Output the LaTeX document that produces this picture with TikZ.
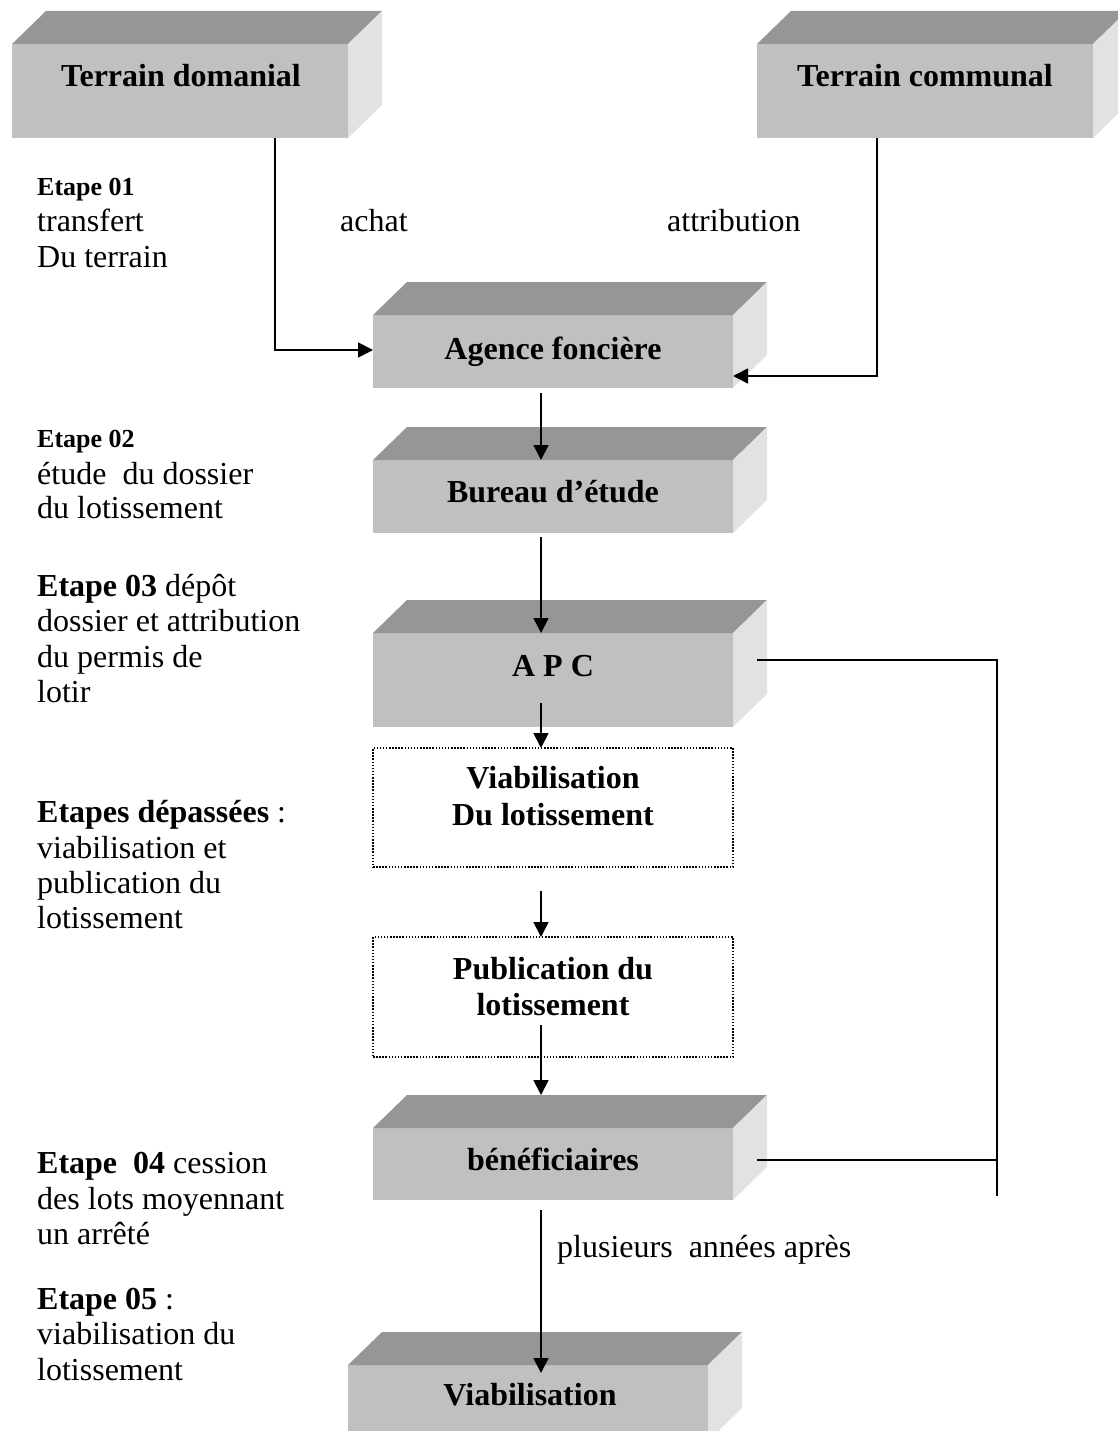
\documentclass[tikz,border=0pt]{standalone}
\usepackage{fontspec}
\setmainfont{Liberation Serif}
\usetikzlibrary{calc,arrows.meta}
\definecolor{frontc}{RGB}{192,192,192}
\definecolor{topc}{RGB}{150,150,150}
\definecolor{sidec}{RGB}{226,226,226}
\newcommand\cubefaces[1]{%
  \fill[topc] (#1.north west) -- ++(34,-33) -- ($(#1.north east)+(34,-33)$) -- (#1.north east) -- cycle;
  \fill[sidec] (#1.north east) -- ++(34,-33) -- ($(#1.south east)+(34,-33)$) -- (#1.south east) -- cycle;}
\begin{document}
\begin{tikzpicture}[x=1pt,y=-1pt,
  front/.style 2 args={fill=frontc, inner sep=0pt, outer sep=0pt, minimum width=#1, minimum height=#2},
  dotbox/.style 2 args={draw, line width=1.5pt, dash pattern=on 1.5pt off 1.6pt, inner sep=0pt, outer sep=0pt, minimum width=#1, minimum height=#2},
  lbl/.style={font=\fontsize{32}{36}\selectfont\bfseries, inner sep=0pt, anchor=base},
  txt/.style={font=\fontsize{32}{36}\selectfont, inner sep=0pt, anchor=base west},
  stxt/.style={font=\fontsize{26}{30}\selectfont\bfseries, inner sep=0pt, anchor=base west},
  ln/.style={line width=1.8pt},
  arr/.style={line width=1.8pt, -{Triangle[length=15pt,width=15pt]}}]
\fill[white] (0,0) rectangle (1118,1431);
\useasboundingbox (0,0) rectangle (1118,1431);

% 3D boxes (front faces)
\node[front={336pt}{94pt}] (dom) at (180,91) {};
\node[front={336pt}{94pt}] (com) at (925,91) {};
\node[front={360pt}{73pt}] (agence) at (553,351.5) {};
\node[front={360pt}{73pt}] (bureau) at (553,496.5) {};
\node[front={360pt}{94pt}] (apc) at (553,680) {};
\node[front={360pt}{72pt}] (benef) at (553,1164) {};
\node[front={360pt}{76pt}] (viab) at (528,1403) {};
\cubefaces{dom}
\cubefaces{com}
\cubefaces{agence}
\cubefaces{bureau}
\cubefaces{apc}
\cubefaces{benef}
\cubefaces{viab}

% dotted boxes
\node[dotbox={360pt}{119pt}] (via) at (553,807.5) {};
\node[dotbox={360pt}{120pt}] (pub) at (553,997) {};

% box labels
\node[lbl] (domT) at (181,87) {Terrain domanial};
\node[lbl] (comT) at (925,87) {Terrain communal};
\node[lbl] (agenceT) at (553,359) {Agence foncière};
\node[lbl] (bureauT) at (553,502) {Bureau d’étude};
\node[lbl] (apcT) at (553,676) {A P C};
\node[lbl] (viaT1) at (553,788) {Viabilisation};
\node[lbl] (viaT2) at (553,825) {Du lotissement};
\node[lbl] (pubT1) at (553,979) {Publication du};
\node[lbl] (pubT2) at (553,1015) {lotissement};
\node[lbl] (benefT) at (553,1170) {bénéficiaires};
\node[lbl] (viabT) at (530,1405) {Viabilisation};

% left texts
\node[stxt] (e1a) at (37,196) {Etape 01};
\node[txt] (e1b) at (37,232) {transfert};
\node[txt] (e1c) at (37,268) {Du terrain};
\node[stxt] (e2a) at (37,447) {Etape 02};
\node[txt] (e2b) at (37,484) {étude~ du dossier};
\node[txt] (e2c) at (37,518) {du lotissement};
\node[txt] (e3a) at (37,596) {\textbf{Etape 03} dépôt};
\node[txt] (e3b) at (37,631) {dossier et attribution};
\node[txt] (e3c) at (37,667) {du permis de};
\node[txt] (e3d) at (37,702) {lotir};
\node[txt] (eda) at (37,822) {\textbf{Etapes dépassées} :};
\node[txt] (edb) at (37,858) {viabilisation et};
\node[txt] (edc) at (37,893) {publication du};
\node[txt] (edd) at (37,928) {lotissement};
\node[txt] (e4a) at (37,1173) {\textbf{Etape~ 04} cession};
\node[txt] (e4b) at (37,1209) {des lots moyennant};
\node[txt] (e4c) at (37,1244) {un arrêté};
\node[txt] (e5a) at (37,1309) {\textbf{Etape 05} :};
\node[txt] (e5b) at (37,1344) {viabilisation du};
\node[txt] (e5c) at (37,1380) {lotissement};

% other labels
\node[txt] (achat) at (340,232) {achat};
\node[txt] (attr) at (667,232) {attribution};
\node[txt] (plus) at (557,1257) {plusieurs~ années après};

% connectors
\coordinate (dj) at (275,350);
\coordinate (cj) at (877,376);
\coordinate (col) at (541,0);
\coordinate (rj) at (997,660);
\coordinate (bj) at (997,1160);
\coordinate (rb) at (997,1196);
\draw[arr] (dom.south -| dj) -- (dj) -- (agence.west |- dj);
\draw[arr] (com.south -| cj) -- (cj) -- (agence.east |- cj);
\draw[arr] ($(agence.south -| col)+(0,5)$) -- (bureau.north -| col);
\draw[arr] ($(bureau.south -| col)+(0,4)$) -- (apc.north -| col);
\draw[arr] ($(apc.south -| col)+(0,-24)$) -- (via.north -| col);
\draw[arr] ($(via.south -| col)+(0,24)$) -- (pub.north -| col);
\draw[arr] ($(pub.south -| col)+(0,-32)$) -- ($(benef.north -| col)+(0,-33)$);
\draw[arr] ($(benef.south -| col)+(0,10)$) -- ($(viab.north -| col)+(0,8)$);
\draw[ln] ($(apc.east |- rj)+(24,0)$) -- (rj) -- (rb);
\draw[ln] ($(benef.east |- bj)+(24,0)$) -- (bj);
\end{tikzpicture}
\end{document}
